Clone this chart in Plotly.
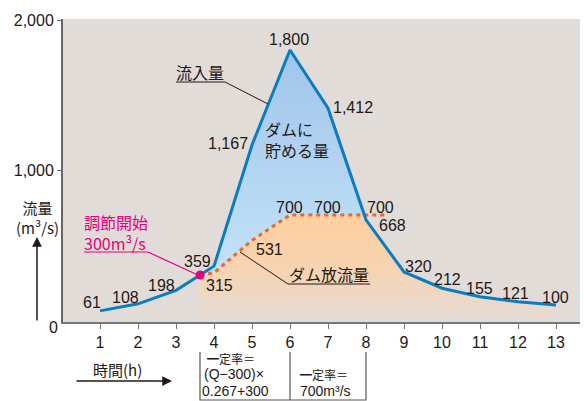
import numpy as np
import plotly.graph_objects as go

# ---------------- data ----------------
hours = [1, 2, 3, 4, 5, 6, 7, 8, 9, 10, 11, 12, 13]
inflow = [61, 108, 198, 359, 1167, 1800, 1412, 668, 320, 212, 155, 121, 100]
release_hours = [3.634, 4, 5, 6, 7, 8]
release = [300, 315, 531, 700, 700, 700]
release_tail_hour = 8.58
start_hour = 3.634
start_flow = 300
x_ticks = list(range(1, 14))
y_ticks = [1000, 2000]
y_tick_text = ["1,000", "2,000"]

# label offsets (px) for inflow values and release values
inflow_off = [(-8, 8), (-13, 6), (-15, 5), (-17, 5), (-24, 1), (-1, 11), (25, 1),
              (26, -6), (14, 6), (5, 9), (-1, 8), (-3, 8), (-1, 8)]
release_lab_idx = [1, 2, 3, 4, 5]
release_off = [(5, -13), (17, -9), (-1, 8), (-1, 8), (14, 8)]

# ---------------- layout geometry ----------------
# page body has an 8px margin; work in reference window pixels, shift by OFF
OFF = 8
W, H = 588 - OFF, 401 - OFF
L, R, T, B = 63, 588, 19, 322          # plot area in window pixels
PXX = 38.0
PXY = 0.15
X0 = 1 - 37 / PXX
X1 = X0 + (R - L) / PXX
Y1 = 2000 + 1 / PXY
Y0 = Y1 - (B - T) / PXY

def px(x):
    return (x - L) / (R - L)

def py(y):
    return (B - y) / (B - T)

TXT = "#231815"
FONT = "Liberation Sans, Arial, Noto Sans CJK JP, sans-serif"
JFONT = "Noto Sans CJK JP, sans-serif"
BLUE = "#0a7cc2"
ORANGE = "#f0652a"
PINK = "#e4007f"
BG = "#e2dcd9"

# crossing of inflow with 700 between hour 7 and 8
cross_x = 7 + (inflow[6] - release[4]) / (inflow[6] - inflow[7])
cross_y = release[4]

fig = go.Figure()

# orange (released) area
ox = release_hours[:5] + [cross_x] + hours[7:] + [hours[-1], start_hour]
oy = release[:5] + [cross_y] + inflow[7:] + [0, 0]
fig.add_trace(go.Scatter(
    x=ox, y=oy, fill="toself", mode="lines", line=dict(width=0),
    fillgradient=dict(type="vertical",
                      colorscale=[[0, "#e4dbd7"], [0.45, "#f6d4b3"], [1, "#fecf9d"]],
                      start=0, stop=700),
    hoverinfo="skip", showlegend=False))

# blue (stored) area
bx = [start_hour] + hours[3:7] + [cross_x] + release_hours[4:0:-1] + [start_hour]
by = [start_flow] + inflow[3:7] + [cross_y] + release[4:0:-1] + [start_flow]
fig.add_trace(go.Scatter(
    x=bx, y=by, fill="toself", mode="lines", line=dict(width=0),
    fillgradient=dict(type="vertical",
                      colorscale=[[0, "#c2e3f6"], [1, "#a2c4ea"]],
                      start=300, stop=1800),
    hoverinfo="skip", showlegend=False))

# release dashed line
fig.add_trace(go.Scatter(
    x=release_hours + [release_tail_hour], y=release + [release[-1]],
    mode="lines", line=dict(color=ORANGE, width=3, dash="4px,4px"),
    hoverinfo="skip", showlegend=False))

# inflow line
fig.add_trace(go.Scatter(
    x=hours, y=inflow, mode="lines", line=dict(color=BLUE, width=3),
    hoverinfo="skip", showlegend=False))

# regulation start point
fig.add_trace(go.Scatter(
    x=[start_hour], y=[start_flow], mode="markers",
    marker=dict(color=PINK, size=9), hoverinfo="skip", showlegend=False))

ann = []
for h, v, (dx, dy) in zip(hours, inflow, inflow_off):
    ann.append(dict(x=h, y=v, xref="x", yref="y", text=f"{v:,}", showarrow=False,
                    xshift=dx, yshift=dy, font=dict(size=16, color=TXT, family=FONT)))
for i, (dx, dy) in zip(release_lab_idx, release_off):
    ann.append(dict(x=release_hours[i], y=release[i], xref="x", yref="y",
                    text=f"{release[i]:,}", showarrow=False,
                    xshift=dx, yshift=dy, font=dict(size=16, color=TXT, family=FONT)))

def ptext(x, y, text, size=16, color=TXT, xanchor="center", family=JFONT, align="center"):
    ann.append(dict(x=px(x), y=py(y), xref="paper", yref="paper", text=text,
                    showarrow=False, xanchor=xanchor, yanchor="middle", align=align,
                    borderpad=0, font=dict(size=size, color=color, family=family)))

# "0" label
ptext(53, 327, "0", family=FONT)
# region labels
ptext(200, 72, "流入量")
ptext(264, 139, "ダムに<br>貯める量", xanchor="left", align="left")
ptext(329, 274, "ダム放流量")
ptext(83, 232, "調節開始<br>300m³/s", color=PINK, xanchor="left", align="left")
# axis titles
ptext(37, 217, "流量<br>(m³/s)", size=15)
ptext(117, 369, "時間(h)", size=15)

# box texts (one annotation per line)
ptext(206, 358, "━定率＝", size=12, xanchor="left")
ptext(203, 374, "(Q−300)×", size=14, xanchor="left", family=FONT)
ptext(201, 391, "0.267+300", size=14, xanchor="left", family=FONT)
ptext(299, 374, "━定率＝", size=12, xanchor="left")
ptext(299, 391, "700m³/s", size=14, xanchor="left", family=FONT)

# arrows
ann.append(dict(x=px(37), y=py(237), ax=0, ay=85, xref="paper", yref="paper",
                axref="pixel", ayref="pixel", text="", showarrow=True, arrowhead=2,
                arrowsize=1.3, arrowwidth=1.5, arrowcolor=TXT))
ann.append(dict(x=px(172), y=py(381), ax=-97, ay=0, xref="paper", yref="paper",
                axref="pixel", ayref="pixel", text="", showarrow=True, arrowhead=2,
                arrowsize=1.3, arrowwidth=1.5, arrowcolor=TXT))

shapes = []
def pline(pts, color=TXT, width=1):
    path = "M " + " L ".join(f"{px(a):.5f},{py(b):.5f}" for a, b in pts)
    shapes.append(dict(type="path", path=path, xref="paper", yref="paper",
                       line=dict(color=color, width=width)))

pline([(176, 82), (225, 82), (268, 104)])
pline([(240, 252), (288, 284), (370, 284)])
pline([(84, 252), (148, 252), (200, 276)], color=PINK, width=1.2)
# table box
pline([(200, 352), (200, 400), (366, 400), (366, 352)], color="#555555", width=1.2)
pline([(290, 352), (290, 400)], color="#555555", width=1.2)

fig.update_layout(
    width=W, height=H,
    margin=dict(l=L - OFF, r=588 - R, t=T - OFF, b=401 - B),
    paper_bgcolor="white", plot_bgcolor=BG,
    annotations=ann, shapes=shapes,
    xaxis=dict(range=[X0, X1], tickvals=x_ticks, ticks="outside", ticklen=5,
               tickcolor="#777777", showline=True, linecolor="#777777", linewidth=1.5,
               showgrid=False, zeroline=False,
               tickfont=dict(size=16, color=TXT, family=FONT)),
    yaxis=dict(range=[Y0, Y1], tickvals=y_ticks, ticktext=y_tick_text, ticks="outside",
               ticklen=4, tickcolor="#666666", showline=True, linecolor="#666666",
               linewidth=2, showgrid=False, zeroline=False,
               tickfont=dict(size=16, color=TXT, family=FONT)),
    hovermode=False,
)

fig.write_html("out.html")
